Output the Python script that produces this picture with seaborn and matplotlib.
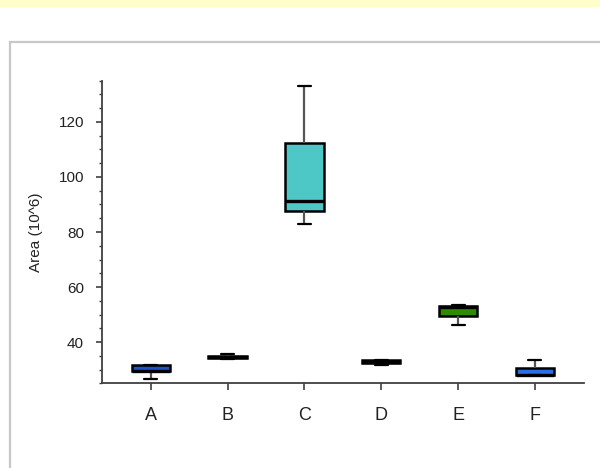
import numpy as np
import pandas as pd
import matplotlib
matplotlib.use("Agg")
import matplotlib.pyplot as plt
import seaborn as sns
from matplotlib.patches import Rectangle
from matplotlib.ticker import MultipleLocator

# ---- data : [low whisker, Q1, median, Q3, high whisker]
categories = ["A", "B", "C", "D", "E", "F"]
values_A = [26.5, 29.3, 29.4, 31.8, 31.8]
values_B = [33.9, 34.1, 34.5, 35.0, 35.8]
values_C = [82.9, 87.5, 91.4, 112.2, 133.2]
values_D = [31.7, 32.3, 32.8, 33.4, 33.4]
values_E = [46.3, 49.6, 52.8, 53.0, 53.3]
values_F = [28.0, 28.0, 28.1, 30.4, 33.3]
box_colors = ["#1f4fc9", "#333333", "#4ec8c6", "#555555", "#2e8b00", "#2a6fe8"]
y_ticks = [40, 60, 80, 100, 120]
y_label = "Area (10^6)"

sns.set_theme(style="ticks")
plt.rcParams['font.family'] = ['Liberation Sans', 'DejaVu Sans']

W, H = 600, 468
fig = plt.figure(figsize=(W / 100, H / 100), dpi=100)
fig.patch.set_facecolor("white")
# yellow band at top
fig.patches.append(Rectangle((0, 1 - 7 / H), 1, 7 / H, transform=fig.transFigure,
                             facecolor="#fffdc8", edgecolor="none", zorder=0))
# panel frame
fig.patches.append(Rectangle((9.5 / W, -0.1), 1.0, (H - 41.5) / H + 0.1,
                             transform=fig.transFigure, fill=False,
                             edgecolor="#c8c8c8", lw=1.6, zorder=0))

ax = fig.add_axes([101.7 / W, 1 - 383.3 / H, (584 - 101.7) / W, (383.3 - 80.7) / H])
ax.set_facecolor("none")

all_vals = [values_A, values_B, values_C, values_D, values_E, values_F]
df = pd.DataFrame({
    "group": np.repeat(categories, [len(v) for v in all_vals]),
    "value": np.concatenate(all_vals),
})

sns.boxplot(data=df, x="group", y="value", hue="group", order=categories,
            hue_order=categories, palette=box_colors, legend=False, width=0.5,
            linewidth=1.8, linecolor="black", saturation=1, ax=ax,
            whiskerprops=dict(color="#555555", linewidth=1.6),
            capprops=dict(color="black", linewidth=1.6),
            medianprops=dict(color="black", linewidth=2.4),
            capwidths=0.17)

ax.set_xlim(-0.64, 5.64)
ax.set_ylim(25, 135)
ax.set_yticks(y_ticks)
ax.yaxis.set_minor_locator(MultipleLocator(5))
for s in ["top", "right"]:
    ax.spines[s].set_visible(False)
for s in ["left", "bottom"]:
    ax.spines[s].set_color("#404040")
    ax.spines[s].set_linewidth(1.3)

ax.tick_params(axis="y", which="major", length=4.3, width=1.2, color="#404040",
               pad=8.5, labelsize=11, labelcolor="#222222")
ax.tick_params(axis="y", which="minor", length=2.2, width=1.0, color="#404040")
ax.tick_params(axis="x", which="major", length=5, width=1.2, color="#404040",
               pad=12, labelsize=13, labelcolor="#222222")
ax.set_xlabel("")
ax.set_ylabel(y_label, fontsize=11, color="#222222", labelpad=11)

fig.savefig("out.png", dpi=100)
